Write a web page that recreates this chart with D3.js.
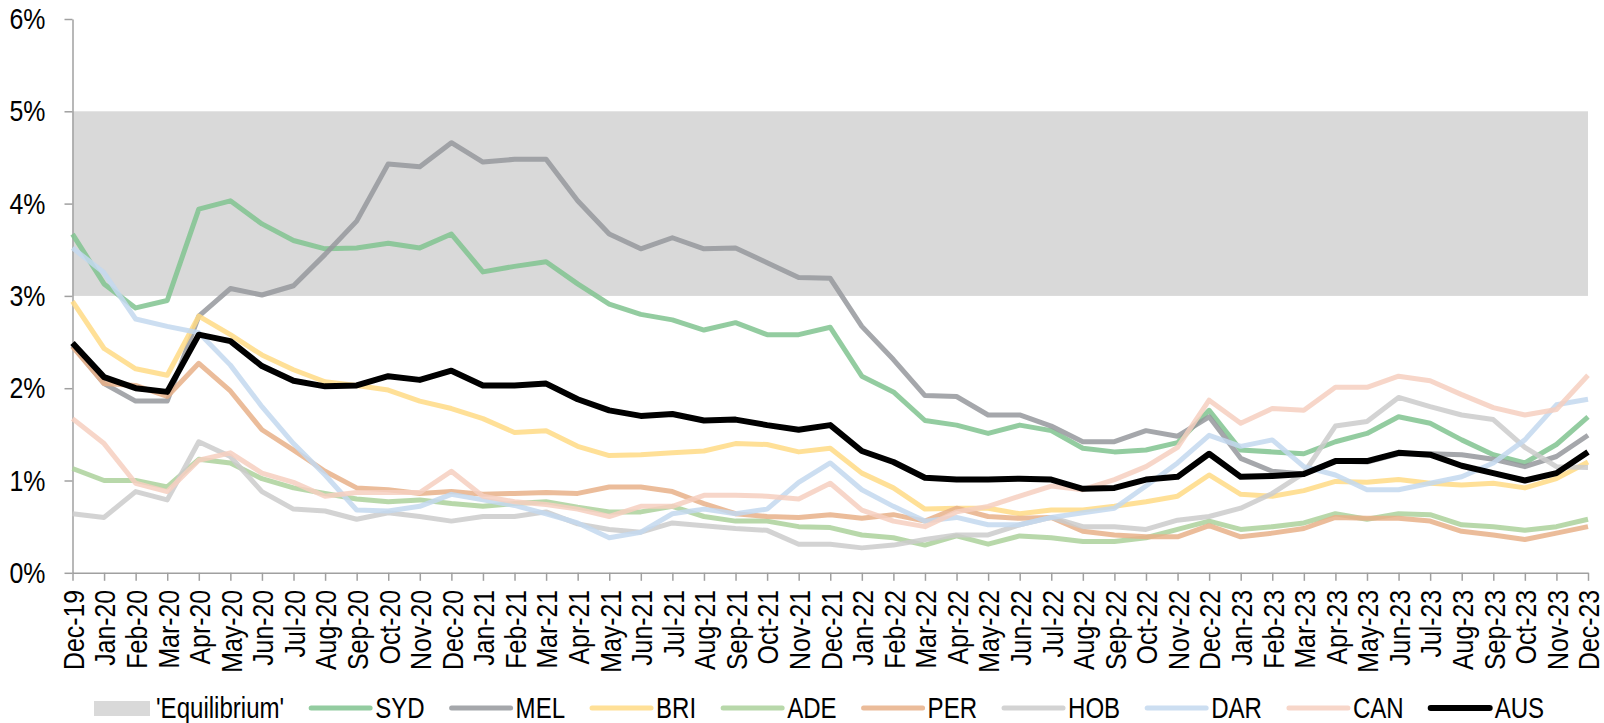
<!DOCTYPE html>
<html>
<head>
<meta charset="utf-8">
<script src="https://cdn.jsdelivr.net/npm/d3@7"></script>
<style>
  body { margin: 0; background: #fff; }
  svg text { font-family: "Liberation Sans Narrow", "Liberation Sans", Arial, sans-serif; fill: #000; }
</style>
</head>
<body>
<div id="chart-container"></div>
<script>
// month labels for x axis
var MONTHS = ["Dec-19",
  "Jan-20", "Feb-20", "Mar-20", "Apr-20", "May-20", "Jun-20", "Jul-20", "Aug-20", "Sep-20", "Oct-20", "Nov-20", "Dec-20",
  "Jan-21", "Feb-21", "Mar-21", "Apr-21", "May-21", "Jun-21", "Jul-21", "Aug-21", "Sep-21", "Oct-21", "Nov-21", "Dec-21",
  "Jan-22", "Feb-22", "Mar-22", "Apr-22", "May-22", "Jun-22", "Jul-22", "Aug-22", "Sep-22", "Oct-22", "Nov-22", "Dec-22",
  "Jan-23", "Feb-23", "Mar-23", "Apr-23", "May-23", "Jun-23", "Jul-23", "Aug-23", "Sep-23", "Oct-23", "Nov-23", "Dec-23"];
// y axis ticks (%)
var Y_TICKS = [0, 1, 2, 3, 4, 5, 6];
// 'Equilibrium' band (%)
var EQUILIBRIUM = [3, 5];
// vacancy rates by city (%)
var SYD = [3.67, 3.13, 2.87, 2.95, 3.94, 4.03, 3.78, 3.60, 3.51, 3.52, 3.57, 3.52, 3.67,
  3.26, 3.32, 3.37, 3.13, 2.91, 2.80, 2.74, 2.63, 2.71, 2.58, 2.58, 2.66,
  2.13, 1.96, 1.65, 1.60, 1.51, 1.60, 1.54, 1.35, 1.31, 1.33, 1.41, 1.76,
  1.33, 1.31, 1.29, 1.42, 1.51, 1.69, 1.62, 1.44, 1.28, 1.19, 1.39, 1.69];
var MEL = [2.46, 2.05, 1.86, 1.86, 2.78, 3.08, 3.01, 3.11, 3.45, 3.81, 4.43, 4.40, 4.66,
  4.45, 4.48, 4.48, 4.03, 3.67, 3.51, 3.63, 3.51, 3.52, 3.36, 3.20, 3.19,
  2.67, 2.31, 1.92, 1.91, 1.71, 1.71, 1.59, 1.42, 1.42, 1.54, 1.48, 1.69,
  1.24, 1.10, 1.07, 1.21, 1.20, 1.29, 1.29, 1.28, 1.23, 1.15, 1.26, 1.49];
var BRI = [2.94, 2.43, 2.21, 2.14, 2.78, 2.58, 2.36, 2.20, 2.07, 2.03, 1.98, 1.86, 1.78,
  1.67, 1.52, 1.54, 1.37, 1.27, 1.28, 1.30, 1.32, 1.40, 1.39, 1.31, 1.35,
  1.08, 0.92, 0.69, 0.70, 0.70, 0.64, 0.68, 0.68, 0.72, 0.77, 0.83, 1.06,
  0.85, 0.83, 0.89, 0.99, 0.98, 1.01, 0.97, 0.95, 0.97, 0.92, 1.02, 1.20];
var ADE = [1.13, 1.00, 1.00, 0.93, 1.23, 1.19, 1.02, 0.92, 0.86, 0.80, 0.77, 0.79, 0.75,
  0.72, 0.75, 0.77, 0.71, 0.66, 0.66, 0.72, 0.61, 0.56, 0.56, 0.50, 0.49,
  0.41, 0.38, 0.30, 0.40, 0.31, 0.40, 0.38, 0.34, 0.34, 0.38, 0.47, 0.56,
  0.47, 0.50, 0.54, 0.64, 0.58, 0.64, 0.63, 0.52, 0.50, 0.46, 0.50, 0.58];
var PER = [2.45, 2.05, 2.03, 1.91, 2.27, 1.97, 1.55, 1.33, 1.10, 0.92, 0.90, 0.86, 0.88,
  0.85, 0.86, 0.87, 0.86, 0.93, 0.93, 0.88, 0.75, 0.64, 0.61, 0.60, 0.63,
  0.59, 0.63, 0.56, 0.70, 0.61, 0.59, 0.60, 0.45, 0.41, 0.39, 0.39, 0.51,
  0.39, 0.43, 0.48, 0.60, 0.59, 0.59, 0.56, 0.45, 0.41, 0.36, 0.43, 0.50];
var HOB = [0.64, 0.60, 0.88, 0.79, 1.42, 1.26, 0.88, 0.69, 0.67, 0.58, 0.65, 0.61, 0.56,
  0.61, 0.61, 0.66, 0.53, 0.47, 0.44, 0.54, 0.51, 0.48, 0.46, 0.31, 0.31,
  0.27, 0.30, 0.36, 0.41, 0.41, 0.52, 0.60, 0.50, 0.50, 0.47, 0.57, 0.61,
  0.70, 0.86, 1.08, 1.59, 1.64, 1.90, 1.80, 1.71, 1.66, 1.36, 1.15, 1.14];
var DAR = [3.52, 3.25, 2.75, 2.67, 2.60, 2.25, 1.80, 1.40, 1.06, 0.68, 0.67, 0.72, 0.85,
  0.79, 0.73, 0.64, 0.54, 0.38, 0.44, 0.64, 0.69, 0.64, 0.69, 0.98, 1.19,
  0.90, 0.72, 0.56, 0.60, 0.52, 0.52, 0.60, 0.65, 0.70, 0.94, 1.19, 1.49,
  1.37, 1.44, 1.15, 1.06, 0.90, 0.90, 0.97, 1.04, 1.19, 1.44, 1.82, 1.88];
var CAN = [1.67, 1.40, 0.97, 0.88, 1.22, 1.30, 1.08, 0.98, 0.83, 0.87, 0.87, 0.87, 1.10,
  0.83, 0.77, 0.74, 0.69, 0.61, 0.72, 0.72, 0.84, 0.84, 0.83, 0.80, 0.97,
  0.68, 0.56, 0.50, 0.66, 0.72, 0.83, 0.94, 0.90, 1.01, 1.15, 1.36, 1.87,
  1.62, 1.78, 1.76, 2.01, 2.01, 2.13, 2.08, 1.93, 1.79, 1.71, 1.77, 2.14];
var AUS = [2.49, 2.12, 2.00, 1.96, 2.58, 2.51, 2.24, 2.08, 2.02, 2.03, 2.13, 2.09, 2.19,
  2.03, 2.03, 2.05, 1.88, 1.76, 1.70, 1.72, 1.65, 1.66, 1.60, 1.55, 1.60,
  1.32, 1.20, 1.03, 1.01, 1.01, 1.02, 1.01, 0.91, 0.92, 1.01, 1.04, 1.29,
  1.04, 1.05, 1.07, 1.21, 1.21, 1.30, 1.28, 1.16, 1.08, 1.00, 1.08, 1.31];
var SERIES_NAMES = ["SYD", "MEL", "BRI", "ADE", "PER", "HOB", "DAR", "CAN", "AUS"];
var SERIES_VALUES = [SYD, MEL, BRI, ADE, PER, HOB, DAR, CAN, AUS];

function drawChart() {
    var width = 1604, height = 723;
    var left = 72.5, right = 1588, top = 19, bottom = 572.8;
    // horizontal squeeze to imitate a narrow font
    var narrow = 0.83;
    // line styles per city
    var colors = {
        SYD: "#80c38f", MEL: "#95989c", BRI: "#ffda85", ADE: "#acd19b", PER: "#e8b088",
        HOB: "#cbcbcb", DAR: "#c3d8ef", CAN: "#f6cfc0", AUS: "#000000"
    };
    var series = SERIES_NAMES.map(function (name, i) {
        return { name: name, values: SERIES_VALUES[i] };
    });
    var svg = d3.select("#chart-container")
        .append("svg")
        .attr("width", width)
        .attr("height", height);
    // scales
    var x = d3.scalePoint().domain(MONTHS).range([left, right]);
    var y = d3.scaleLinear().domain([0, 6]).range([bottom, top]);
    // equilibrium band
    svg.append("rect")
        .attr("x", left)
        .attr("y", y(EQUILIBRIUM[1]))
        .attr("width", right - left)
        .attr("height", y(EQUILIBRIUM[0]) - y(EQUILIBRIUM[1]))
        .attr("fill", "#d9d9d9");
    // y axis
    var yAxis = svg.append("g")
        .attr("transform", "translate(" + left + ",0)")
        .call(d3.axisLeft(y).tickValues(Y_TICKS).tickFormat(function (d) { return d + "%"; })
            .tickSize(8).tickSizeOuter(0));
    yAxis.selectAll("path, line").attr("stroke", "#a0a0a0").attr("stroke-width", 1.5);
    yAxis.selectAll("text")
        .attr("font-size", "30px")
        .attr("font-family", null)
        .attr("x", -27 / narrow)
        .attr("transform", "scale(" + narrow + ",1)");
    // x axis
    var xAxis = svg.append("g")
        .attr("transform", "translate(0," + bottom + ")")
        .call(d3.axisBottom(x).tickSize(8).tickSizeOuter(0));
    xAxis.selectAll("path, line").attr("stroke", "#a0a0a0").attr("stroke-width", 1.5);
    xAxis.selectAll("text")
        .attr("font-size", "30px")
        .attr("font-family", null)
        .attr("transform", "rotate(-90) scale(" + narrow + ",1)")
        .attr("text-anchor", "end")
        .attr("x", -17 / narrow)
        .attr("y", 0)
        .attr("dy", "0.36em");
    // city lines
    var line = d3.line()
        .x(function (d, i) { return x(MONTHS[i]); })
        .y(function (d) { return y(d); });
    svg.append("g")
        .selectAll("path")
        .data(series)
        .enter()
        .append("path")
        .attr("d", function (d) { return line(d.values); })
        .attr("fill", "none")
        .attr("stroke", function (d) { return colors[d.name]; })
        .attr("stroke-opacity", function (d) { return d.name == "AUS" ? 1 : 0.85; })
        .attr("stroke-width", function (d) { return d.name == "AUS" ? 6 : 5; })
        .attr("stroke-linejoin", "round");
    // legend
    var legend = svg.append("g").attr("transform", "translate(0,708)");
    var lx = 94;
    var items = [{ name: "'Equilibrium'", band: true }].concat(series);
    items.forEach(function (d) {
        if (d.band) {
            legend.append("rect")
                .attr("x", lx).attr("y", -7).attr("width", 56).attr("height", 15)
                .attr("fill", "#d9d9d9");
        } else {
            legend.append("line")
                .attr("x1", lx).attr("x2", lx + 59).attr("y1", 0).attr("y2", 0)
                .attr("stroke", colors[d.name])
                .attr("stroke-opacity", d.name == "AUS" ? 1 : 0.85)
                .attr("stroke-width", d.name == "AUS" ? 6 : 5)
                .attr("stroke-linecap", "round");
        }
        var tx = lx + (d.band ? 62 : 64);
        var t = legend.append("text")
            .attr("transform", "translate(" + tx + ",0) scale(" + narrow + ",1)")
            .attr("dy", "0.34em")
            .attr("font-size", "29px")
            .text(d.name);
        lx = tx + t.node().getComputedTextLength() * narrow + 27;
    });
}
window.onload = function () {
    drawChart();
};
</script>
</body>
</html>
